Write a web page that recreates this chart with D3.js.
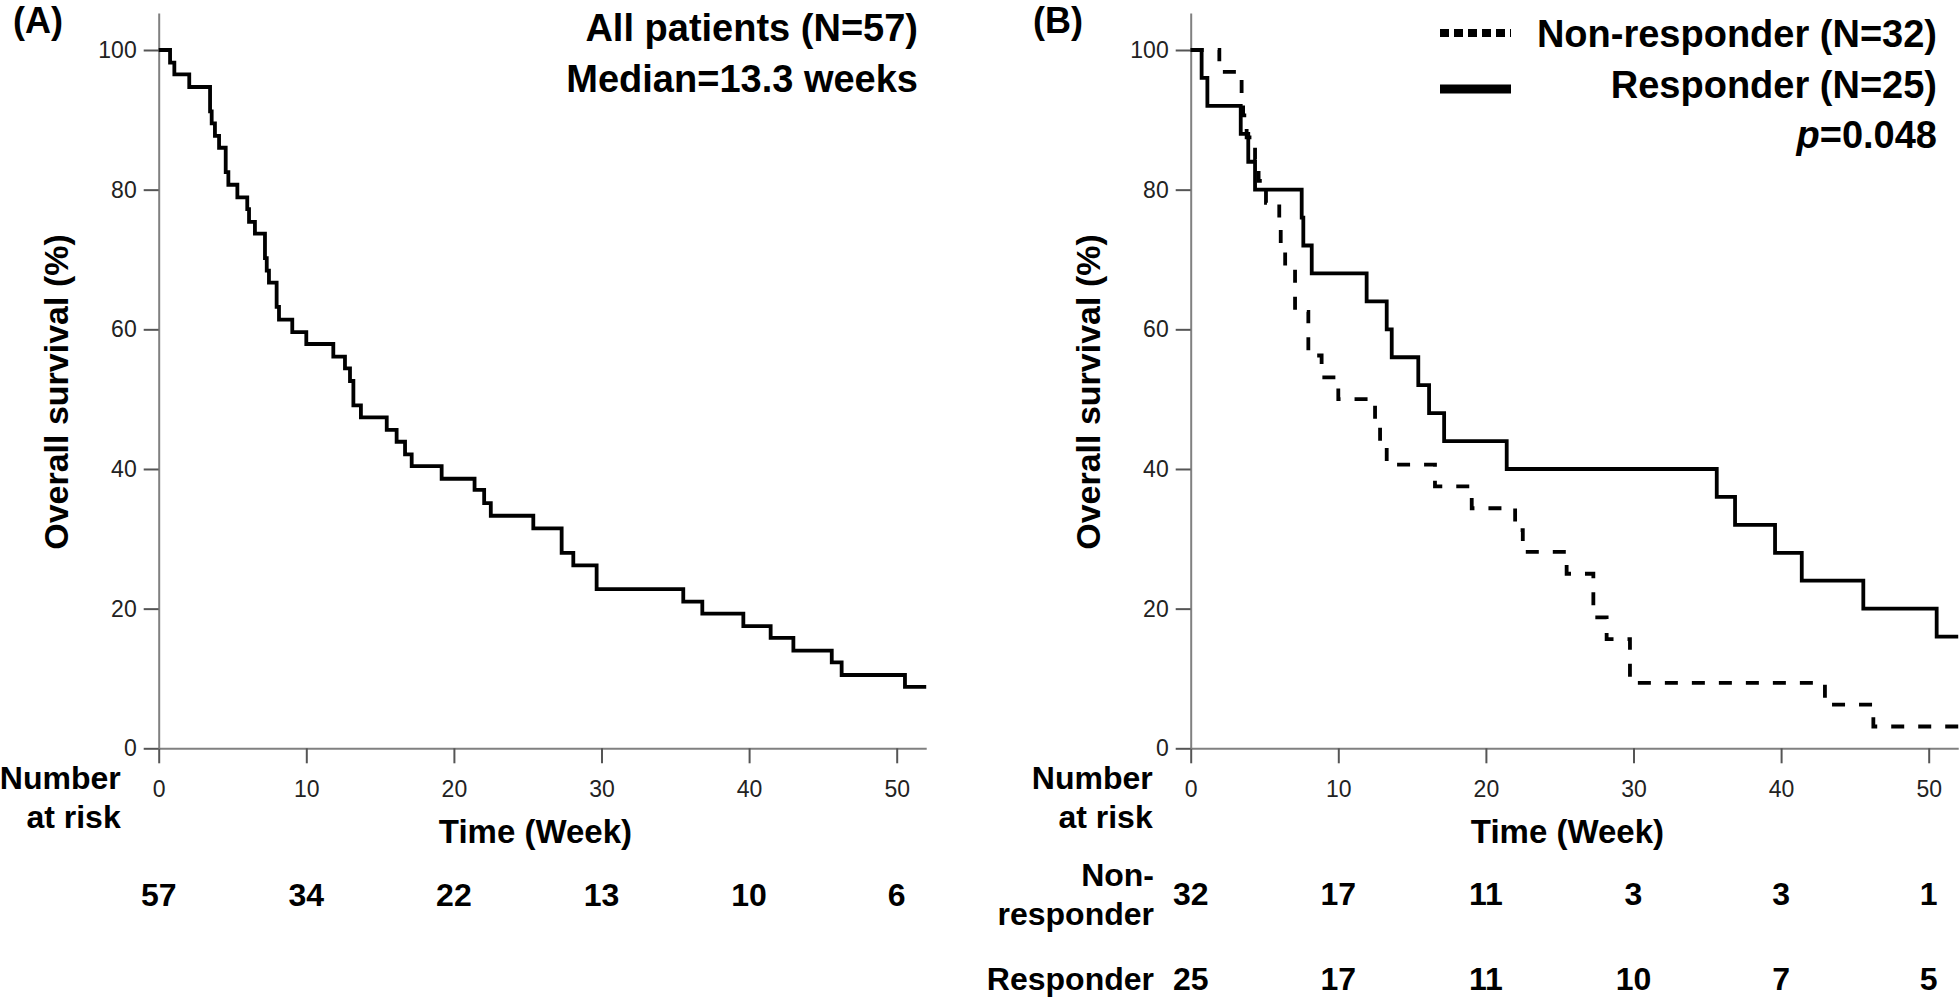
<!DOCTYPE html>
<html>
<head>
<meta charset="utf-8">
<script src="https://cdn.jsdelivr.net/npm/d3@7"></script>
<style>
  html, body { margin: 0; padding: 0; background: #fff; }
  svg { display: block; }
  text { font-family: "Liberation Sans", Arial, Helvetica, sans-serif; fill: #000; }
  .tick text { font-size: 23px; fill: #222; font-weight: normal; }
  .bold { font-weight: bold; }
</style>
</head>
<body>
<svg id="chart" width="1960" height="1002"></svg>
<script>
// ---------------- data ----------------
const xTicks = [0, 10, 20, 30, 40, 50];
const yTicks = [0, 20, 40, 60, 80, 100];

// Panel A: all patients (Kaplan-Meier step points: time in weeks, survival %)
const weeksAll = [0, 0.77, 1.06, 2.07, 3.48, 3.59, 3.81, 4.09, 4.54, 4.72, 5.33, 6.0, 6.12, 6.52, 7.2, 7.32, 7.47, 7.99, 8.15, 9.05, 10.0, 11.83, 12.62, 12.96, 13.19, 13.7, 15.45, 16.12, 16.69, 17.14, 19.17, 21.4, 22.05, 22.5, 25.38, 27.3, 28.09, 29.67, 35.54, 36.83, 39.61, 41.46, 43.0, 45.6, 46.27, 50.56, 52];
const survAll  = [100, 98.2, 96.5, 94.7, 91.2, 89.5, 87.7, 86.0, 82.5, 80.7, 78.9, 77.2, 75.4, 73.7, 70.2, 68.4, 66.7, 63.2, 61.4, 59.6, 57.9, 56.1, 54.4, 52.6, 49.1, 47.4, 45.6, 43.9, 42.1, 40.4, 38.6, 37.0, 35.1, 33.3, 31.5, 28.0, 26.2, 22.8, 21.0, 19.3, 17.5, 15.8, 14.0, 12.3, 10.5, 8.8, 8.8];

// Panel B: non-responder
const weeksNon = [0, 1.94, 3.45, 3.55, 3.79, 4.36, 4.6, 5.1, 6.0, 6.1, 6.4, 7.07, 7.97, 8.87, 10.0, 12.49, 12.83, 13.28, 16.55, 19.04, 21.98, 22.5, 25.47, 27.28, 28.18, 29.76, 42.97, 46.25, 52];
const survNon  = [100, 96.875, 93.75, 90.625, 87.5, 84.375, 81.25, 78.125, 75, 71.875, 68.75, 62.5, 56.25, 53.125, 50, 46.875, 43.75, 40.625, 37.5, 34.375, 31.25, 28.125, 25, 18.75, 15.625, 9.375, 6.25, 3.125, 3.125];

// Panel B: responder
const weeksResp = [0, 0.74, 1.13, 3.39, 3.9, 4.36, 7.52, 7.63, 8.2, 11.92, 13.28, 13.62, 15.42, 16.15, 17.17, 21.41, 35.64, 36.88, 39.59, 41.4, 45.57, 50.54, 52];
const survResp  = [100, 96, 92, 88, 84, 80, 76, 72, 68, 64, 60, 56, 52, 48, 44, 40, 36, 32, 28, 24, 20, 16, 16];

// Number at risk
const riskAll  = [57, 34, 22, 13, 10, 6];
const riskNon  = [32, 17, 11, 3, 3, 1];
const riskResp = [25, 17, 11, 10, 7, 5];

const groupLabels = ["Non-responder (N=32)", "Responder (N=25)"];

// ---------------- drawing ----------------
const svg = d3.select("#chart");
svg.append("rect").attr("width", 1960).attr("height", 1002).attr("fill", "#fff");

const pxPerWeek = 14.76;
const yBottom = 748.3, yTop100 = 50;
const yMaxDomain = 105.3;

function makePanel(x0) {
  const x = d3.scaleLinear().domain([0, 52]).range([x0, x0 + 52 * pxPerWeek]);
  const y = d3.scaleLinear().domain([0, 100]).range([yBottom, yTop100]);
  const yAxisScale = d3.scaleLinear().domain([0, yMaxDomain]).range([yBottom, y(yMaxDomain)]);
  const g = svg.append("g");

  const xAxis = g.append("g").attr("transform", `translate(0,${yBottom})`)
    .call(d3.axisBottom(x).tickValues(xTicks).tickSize(15).tickPadding(17).tickSizeOuter(0));
  const yAxis = g.append("g").attr("transform", `translate(${x0},0)`)
    .call(d3.axisLeft(yAxisScale).tickValues(yTicks).tickSize(15).tickPadding(7).tickSizeOuter(0));
  [xAxis, yAxis].forEach(a => {
    a.select(".domain").attr("stroke", "#808080").attr("stroke-width", 2);
    a.selectAll(".tick line").attr("stroke", "#555").attr("stroke-width", 2);
    a.selectAll(".tick text").attr("font-family", null).attr("font-size", null);
  });
  a = null;

  // Y title
  g.append("text").attr("class", "bold")
    .attr("transform", `translate(${x0 - 91},${392}) rotate(-90)`)
    .attr("text-anchor", "middle").attr("font-size", 34)
    .text("Overall survival (%)");
  // X title
  g.append("text").attr("class", "bold")
    .attr("x", (x.range()[0] + x.range()[1]) / 2 - 7).attr("y", 843)
    .attr("text-anchor", "middle").attr("font-size", 33)
    .text("Time (Week)");
  // Number at risk label
  const nar = g.append("text").attr("class", "bold").attr("text-anchor", "end").attr("font-size", 32);
  nar.append("tspan").attr("x", x0 - 38).attr("y", 789).text("Number");
  nar.append("tspan").attr("x", x0 - 38).attr("y", 828).text("at risk");
  return { g, x, y };
}

const line = (x, y) => d3.line().x(d => x(d[0])).y(d => y(d[1])).curve(d3.curveStepAfter);

// ---- Panel A ----
const A = makePanel(158.7);
A.g.append("path")
  .datum(d3.zip(weeksAll, survAll))
  .attr("fill", "none").attr("stroke", "#000").attr("stroke-width", 3.8)
  .attr("d", line(A.x, A.y));
A.g.append("text").attr("class", "bold").attr("x", 13).attr("y", 33).attr("font-size", 36).text("(A)");
A.g.append("text").attr("class", "bold").attr("x", 918).attr("y", 41).attr("text-anchor", "end").attr("font-size", 38).text("All patients (N=57)");
A.g.append("text").attr("class", "bold").attr("x", 918).attr("y", 92).attr("text-anchor", "end").attr("font-size", 38).text("Median=13.3 weeks");
A.g.selectAll(".riskA").data(d3.zip(xTicks, riskAll)).join("text")
  .attr("class", "bold").attr("text-anchor", "middle").attr("font-size", 32)
  .attr("x", d => A.x(d[0])).attr("y", 906).text(d => d[1]);

// ---- Panel B ----
const B = makePanel(1190.7);
B.g.append("path")
  .datum(d3.zip(weeksNon, survNon))
  .attr("fill", "none").attr("stroke", "#000").attr("stroke-width", 3.8)
  .attr("stroke-dasharray", "13,14")
  .attr("d", line(B.x, B.y));
B.g.append("path")
  .datum(d3.zip(weeksResp, survResp))
  .attr("fill", "none").attr("stroke", "#000").attr("stroke-width", 3.8)
  .attr("d", line(B.x, B.y));
B.g.append("text").attr("class", "bold").attr("x", 1033).attr("y", 33).attr("font-size", 36).text("(B)");

// legend
B.g.append("line").attr("x1", 1440).attr("x2", 1511).attr("y1", 33).attr("y2", 33)
  .attr("stroke", "#000").attr("stroke-width", 8).attr("stroke-dasharray", "9,5");
B.g.append("line").attr("x1", 1440).attr("x2", 1511).attr("y1", 89).attr("y2", 89)
  .attr("stroke", "#000").attr("stroke-width", 9);
B.g.append("text").attr("class", "bold").attr("x", 1937).attr("y", 47).attr("text-anchor", "end").attr("font-size", 38).text(groupLabels[0]);
B.g.append("text").attr("class", "bold").attr("x", 1937).attr("y", 98).attr("text-anchor", "end").attr("font-size", 38).text(groupLabels[1]);
const pt = B.g.append("text").attr("class", "bold").attr("x", 1937).attr("y", 148).attr("text-anchor", "end").attr("font-size", 38);
pt.append("tspan").attr("font-style", "italic").text("p");
pt.append("tspan").text("=0.048");

// number at risk rows
const nonLbl = B.g.append("text").attr("class", "bold").attr("text-anchor", "end").attr("font-size", 32);
nonLbl.append("tspan").attr("x", 1154).attr("y", 886).text("Non-");
nonLbl.append("tspan").attr("x", 1154).attr("y", 925).text("responder");
B.g.append("text").attr("class", "bold").attr("text-anchor", "end").attr("font-size", 32)
  .attr("x", 1154).attr("y", 990).text("Responder");
B.g.selectAll(".riskN").data(d3.zip(xTicks, riskNon)).join("text")
  .attr("class", "bold").attr("text-anchor", "middle").attr("font-size", 32)
  .attr("x", d => B.x(d[0])).attr("y", 905).text(d => d[1]);
B.g.selectAll(".riskR").data(d3.zip(xTicks, riskResp)).join("text")
  .attr("class", "bold").attr("text-anchor", "middle").attr("font-size", 32)
  .attr("x", d => B.x(d[0])).attr("y", 990).text(d => d[1]);
</script>
</body>
</html>
